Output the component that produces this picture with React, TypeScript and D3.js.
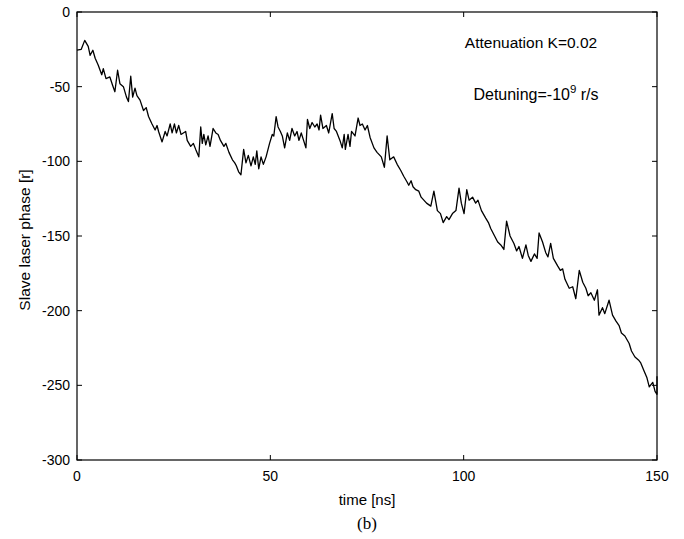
import React from "react";
import * as d3 from "d3";

const timeNs = [0,1.1,2.0,2.9,3.4,4.1,4.7,5.5,6.4,6.8,7.5,8.5,9.2,9.8,10.5,11.1,12.0,12.8,13.3,13.9,14.4,15.0,15.5,16.3,17.2,17.9,18.5,19.4,20.2,20.7,21.1,22.0,22.8,23.3,24.1,24.6,25.2,25.7,26.3,26.9,28.1,28.5,29.4,30.1,30.7,31.5,32.0,32.4,32.8,33.3,33.9,34.4,35.2,35.9,36.5,37.1,38.0,38.5,39.3,40.2,40.8,41.2,41.8,42.4,43.1,43.7,44.3,45.0,45.6,46.1,46.5,47.0,47.6,48.2,48.9,49.8,50.5,50.9,51.5,52.0,52.6,53.1,53.7,54.4,55.0,55.6,56.3,56.9,57.4,58.0,58.6,59.2,59.6,60.2,60.8,61.5,62.1,62.6,63.0,63.6,64.5,65.1,66.0,66.5,67.1,68.0,68.6,69.1,69.4,70.1,70.6,71.0,71.9,72.7,73.2,73.8,74.5,75.1,75.8,76.8,77.6,78.7,79.5,80.2,80.9,81.9,82.8,83.7,84.5,85.4,85.8,86.4,86.9,87.6,88.4,89.0,89.7,90.4,91.5,92.3,93.2,94.0,94.7,95.6,96.2,97.1,98.0,98.8,99.4,100.1,100.8,101.4,102.3,103.1,103.7,104.6,105.7,106.4,107.0,108.0,108.8,109.6,110.4,111.1,112.0,113.0,113.7,114.3,115.2,116.1,116.7,117.4,118.3,119.0,119.5,120.4,121.2,121.8,122.5,123.2,124.3,125.0,125.6,126.2,127.3,128.2,129.0,129.9,130.8,131.6,132.2,132.9,133.8,134.6,135.0,135.9,136.5,137.6,138.5,139.4,140.2,140.8,141.7,142.8,143.4,144.3,145.2,145.8,146.6,147.4,148.0,148.9,149.5,150.0,150.0];

const phase = [-25.6,-25,-19,-23,-29,-25.6,-31,-35.6,-42,-38,-44.6,-43.5,-49,-53.4,-39,-48,-50,-57,-60,-43,-57,-51,-56,-59,-66,-64,-70,-75,-79,-76,-80,-87,-80,-83,-75,-81,-75,-81,-76,-82,-80,-86,-90,-88,-92,-97,-77,-88,-82,-89,-83,-90,-78,-81,-82,-86,-90,-88,-94,-99,-101,-103,-107,-109,-92,-101,-96,-103,-97,-102,-93,-105,-97,-102,-97,-88,-82,-83,-70,-77,-80,-83,-91,-81,-86,-78,-83,-80,-86,-81,-86,-91,-72,-78,-74,-77,-75,-79,-69,-78,-76,-81,-68,-78,-80,-86,-91,-82,-92,-82,-90,-80,-83,-71,-76,-75,-79,-76,-84,-91,-94,-97,-104,-83,-99,-97,-102,-106,-110,-114,-116,-113,-117,-119,-120,-124,-126,-128,-130,-120,-133,-135,-141,-137,-139,-135,-133,-118,-128,-135,-119,-126,-124,-128,-126,-133,-138,-141,-145,-150,-154,-156,-159,-140,-150,-155,-160,-157,-165,-156,-163,-167,-162,-165,-148,-154,-161,-164,-155,-165,-170,-173,-172,-179,-185,-184,-192,-173,-181,-185,-190,-188,-193,-186,-203,-198,-202,-193,-203,-207,-210,-215,-217,-222,-227,-231,-233,-235,-240,-245,-251,-248,-254,-256,-244];

const xTicks = [0, 50, 100, 150];
const yTicks = [0, -50, -100, -150, -200, -250, -300];

const annotation1 = "Attenuation K=0.02";
const xLabel = "time [ns]";
const yLabel = "Slave laser phase [r]";
const caption = "(b)";

export default function App() {
  const W = 684, H = 539;
  const L = 77, R = 657, T = 12, B = 460;
  const x = d3.scaleLinear().domain([0, 150]).range([L, R]);
  const y = d3.scaleLinear().domain([-300, 0]).range([B, T]);
  const pts = timeNs.map((t, i) => [t, phase[i]] as [number, number]);
  const line = d3.line<[number, number]>().x(d => x(d[0])).y(d => y(d[1]));
  const font = "Liberation Sans, Arial, Helvetica, sans-serif";
  const tl = 5;
  return (
    <svg width={W} height={H} style={{ position: "absolute", left: 0, top: 0, background: "#fff" }}>
      <rect x={0} y={0} width={W} height={H} fill="#fff" />
      <rect x={L} y={T} width={R - L} height={B - T} fill="none" stroke="#000" strokeWidth={1.2} />
      {xTicks.map(t => (
        <g key={"x" + t}>
          <line x1={x(t)} x2={x(t)} y1={B} y2={B - tl} stroke="#000" />
          <line x1={x(t)} x2={x(t)} y1={T} y2={T + tl} stroke="#000" />
          <text x={x(t)} y={B + 21} textAnchor="middle" fontFamily={font} fontSize={14}>{t}</text>
        </g>
      ))}
      {yTicks.map(v => (
        <g key={"y" + v}>
          <line x1={L} x2={L + tl} y1={y(v)} y2={y(v)} stroke="#000" />
          <line x1={R} x2={R - tl} y1={y(v)} y2={y(v)} stroke="#000" />
          <text x={L - 7} y={y(v) + 5} textAnchor="end" fontFamily={font} fontSize={14}>{v}</text>
        </g>
      ))}
      <path d={line(pts) || ""} fill="none" stroke="#000" strokeWidth={1.3} strokeLinejoin="round" />
      <text x={531} y={48} textAnchor="middle" fontFamily={font} fontSize={15.5}>{annotation1}</text>
      <text x={536} y={100} textAnchor="middle" fontFamily={font} fontSize={16}>
        Detuning=-10<tspan dy={-7} fontSize={11.5}>9</tspan><tspan dy={7}> r/s</tspan>
      </text>
      <text x={(L + R) / 2} y={505} textAnchor="middle" fontFamily={font} fontSize={15}>{xLabel}</text>
      <text transform={`translate(30,${(T + B) / 2 + 4}) rotate(-90)`} textAnchor="middle" fontFamily={font} fontSize={15.5}>{yLabel}</text>
      <text x={(L + R) / 2} y={529} textAnchor="middle" fontFamily="Liberation Serif, Times New Roman, serif" fontSize={17}>{caption}</text>
    </svg>
  );
}
